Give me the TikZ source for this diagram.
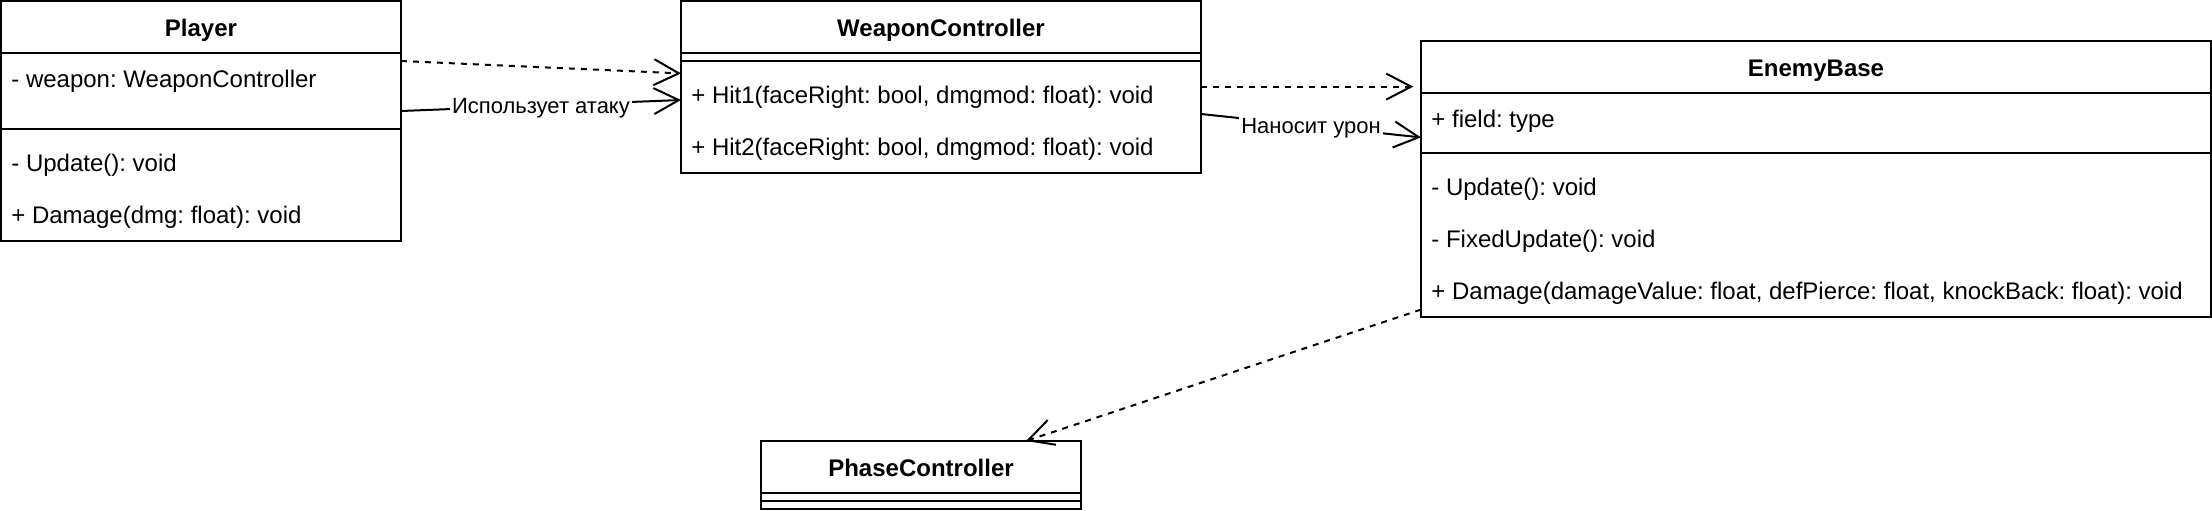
\documentclass[tikz,border=0pt]{standalone}
\usepackage{fontspec}
\setmainfont{Liberation Sans}
\frenchspacing
\usetikzlibrary{arrows.meta}
\tikzset{
  classbox/.style={draw=black, line width=1pt, anchor=north west, inner sep=0pt, outer sep=0pt, fill=white},
  titletxt/.style={anchor=base, inner sep=0pt, font=\fontsize{12}{14.4}\selectfont\bfseries},
  rowtxt/.style={anchor=base west, inner sep=0pt, font=\fontsize{12}{14.4}\selectfont},
  sepline/.style={line width=1pt, draw=black},
  dep/.style={line width=1pt, dash pattern=on 3pt off 3pt, -{Straight Barb[length=12.5pt,width=13pt]}},
  assoc/.style={line width=1pt, -{Straight Barb[length=12.5pt,width=13pt]}},
  elabel/.style={fill=white, inner sep=1pt, text height=8pt, text depth=0pt, font=\fontsize{11}{13}\selectfont}
}
\begin{document}
\frenchspacing
\begin{tikzpicture}[x=1pt,y=-1pt]
\fill[white] (-0.5,-0.5) rectangle (1105.5,254.5);
\useasboundingbox (-0.5,-0.5) rectangle (1105.5,254.5);

% Player
\node[classbox, minimum width=200pt, minimum height=120pt] (player) at (0,0) {};
\node[titletxt] (playerT) at (100,17.5) {Player};
\draw[sepline] (player.west |- 0,26) -- (player.east |- 0,26);
\node[rowtxt] (playerA) at (5,43.2) {- weapon: WeaponController};
\draw[sepline] (player.west |- 0,64) -- (player.east |- 0,64);
\node[rowtxt] (playerM1) at (5,85.3) {- Update(): void};
\node[rowtxt] (playerM2) at (5,111.3) {+ Damage(dmg: float): void};

% WeaponController
\node[classbox, minimum width=260pt, minimum height=86pt] (weapon) at (340,0) {};
\node[titletxt] (weaponT) at (470,17.5) {WeaponController};
\draw[sepline] (weapon.west |- 0,26) -- (weapon.east |- 0,26);
\draw[sepline] (weapon.west |- 0,30) -- (weapon.east |- 0,30);
\node[rowtxt] (weaponM1) at (345,51.3) {+ Hit1(faceRight: bool, dmgmod: float): void};
\node[rowtxt] (weaponM2) at (345,77.3) {+ Hit2(faceRight: bool, dmgmod: float): void};

% EnemyBase
\node[classbox, minimum width=395pt, minimum height=138pt] (enemy) at (710,20) {};
\node[titletxt] (enemyT) at (907.5,37.5) {EnemyBase};
\draw[sepline] (enemy.west |- 0,46) -- (enemy.east |- 0,46);
\node[rowtxt] (enemyA) at (715,63) {+ field: type};
\draw[sepline] (enemy.west |- 0,76) -- (enemy.east |- 0,76);
\node[rowtxt] (enemyM1) at (715,97.1) {- Update(): void};
\node[rowtxt] (enemyM2) at (715,123.1) {- FixedUpdate(): void};
\node[rowtxt] (enemyM3) at (715,149) {+ Damage(damageValue: float, defPierce: float, knockBack: float): void};

% PhaseController
\node[classbox, minimum width=160pt, minimum height=34pt] (phase) at (380,220) {};
\node[titletxt] (phaseT) at (460,237.5) {PhaseController};
\draw[sepline] (phase.west |- 0,246) -- (phase.east |- 0,246);
\draw[sepline] (phase.west |- 0,250) -- (phase.east |- 0,250);

% connectors
\coordinate (depEnd) at (706.2,42.8);
\draw[dep] (player.east |- 0,30) -- (weapon.west |- 0,36.2);
\draw[assoc] (player.east |- 0,55) -- node[elabel, midway] (lab1) {Использует атаку} (weapon.west |- 0,49.5);
\draw[dep] (weapon.east |- 0,42.8) -- (depEnd);
\draw[assoc] (weapon.east |- 0,56.5) -- node[elabel, midway] (lab2) {Наносит урон} (enemy.west |- 0,68.2);
\draw[dep] (enemy.west |- 0,154.3) -- (phase.north -| 512.5,0);
\end{tikzpicture}
\end{document}
